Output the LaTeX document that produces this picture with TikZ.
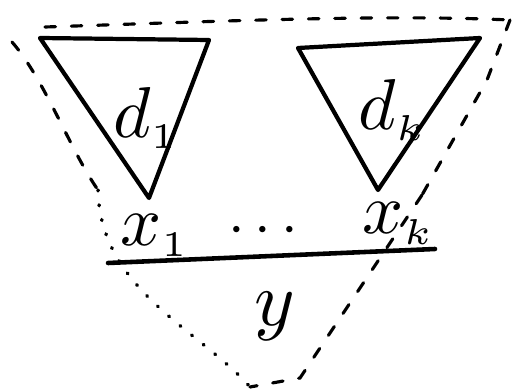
\documentclass[tikz,border=0pt]{standalone}
\usepackage{graphicx}
\usepackage{amsmath,amssymb}
\usetikzlibrary{calc}

% big hand-style symbol with a small index
\newcommand{\hlbl}[2]{\scalebox{4.1}{$#1_{\scriptscriptstyle #2}$}}

\begin{document}
\begin{tikzpicture}[
    x=0.02cm, y=-0.02cm,
    tree/.style={line width=2.4pt, line join=round, line cap=round},
    base/.style={line width=2.6pt, line cap=round},
    hull/.style={line width=1.8pt, dash pattern=on 6pt off 9pt, line cap=round},
    dots/.style={line width=2pt, dash pattern=on 0.5pt off 8pt, line cap=round},
    lbl/.style={font=\normalsize, inner sep=0pt, anchor=base west},
]
\useasboundingbox (0,0) rectangle (517,391);

% --- Left subtree d_1 ---
\coordinate (a1) at (40,38);
\coordinate (b1) at (209,40);
\coordinate (c1) at (149,198);
\draw[tree] (a1) -- (b1) -- (c1) -- cycle;
\node[lbl] (d1) at (113,138) {\hlbl{d}{1}};

% --- Right subtree d_k ---
\coordinate (a2) at (298,48);
\coordinate (b2) at (480,38);
\coordinate (c2) at (378,190);
\draw[tree] (a2) -- (b2) -- (c2) -- cycle;
\node[lbl] (dk) at (358,130) {\hlbl{d}{k}};

% --- Leaves and base line ---
\node[lbl] (x1) at (120,246) {\hlbl{x}{1}};
\node[lbl] (xk) at (362,234) {\hlbl{x}{k}};
\node[lbl] (mid) at (228,245) {\scalebox{3.4}{$\cdots$}};
\coordinate (l0) at (108,263);
\coordinate (l1) at (435,249);
\draw[base] (l0) -- (l1);
\node[lbl] (y) at (254,326) {\scalebox{4.4}{$y$}};

% --- Enclosing hull (dashed / dotted) ---
\coordinate (h0) at (12,42);
\coordinate (h1) at (98,190);
\coordinate (h2) at (250,387);
\coordinate (h3) at (300,378);
\coordinate (h4) at (422,195);
\coordinate (h5) at (510,20);
\coordinate (h6) at (45,27);
\draw[hull] (h6) .. controls (200,22) and (380,14) .. (h5);
\draw[hull] (h5) -- (487,80) -- (h4);
\draw[hull] (h4) -- (h3) -- (h2);
\draw[hull] (h0) .. controls (45,80) and (70,150) .. (h1);
\draw[dots] (h1) .. controls (100,290) and (200,330) .. (h2);
\end{tikzpicture}
\end{document}
